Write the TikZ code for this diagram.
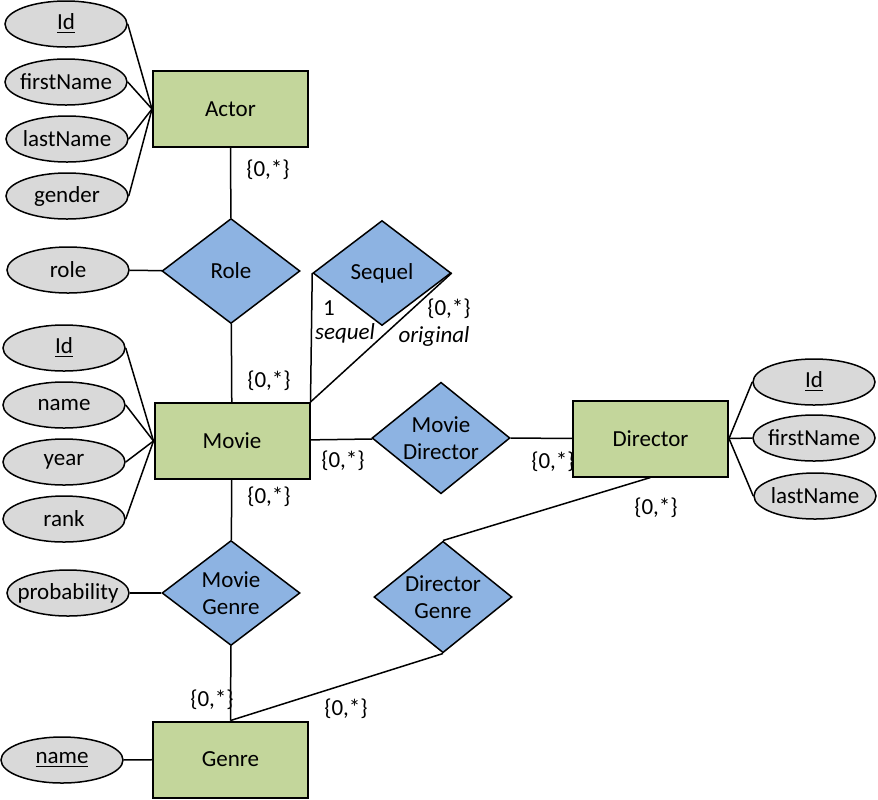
\documentclass[tikz,border=0pt]{standalone}
\usepackage{fontspec}
\setmainfont{Carlito}
\usetikzlibrary{shapes.geometric}

\definecolor{entgreen}{HTML}{C3D69B}
\definecolor{relblue}{HTML}{8DB3E2}
\definecolor{attrgray}{HTML}{D9D9D9}
\newcommand{\erfont}{\fontsize{11.5}{13.8}\selectfont}

\begin{document}
\begin{tikzpicture}[
    x=0.5pt, y=-0.5pt,
    every node/.style={font=\erfont},
    entity/.style={rectangle, draw, line width=1pt, fill=entgreen, minimum width=77.5pt, minimum height=38pt},
    attr/.style={ellipse, draw, line width=0.75pt, fill=attrgray, minimum width=61pt, minimum height=23pt, inner sep=0pt, inner xsep=-8pt},
    rel/.style={diamond, draw, line width=0.75pt, fill=relblue, minimum width=69pt, minimum height=52.5pt, inner sep=-1pt, align=center},
    card/.style={inner sep=0pt},
    link/.style={line width=0.75pt}
]
    \useasboundingbox (0,0) rectangle (878,799);

    % entities
    \node[entity] (actor) at (230.5,109) {Actor};
    \node[entity] (movie) at (232,441) {Movie};
    \node[entity] (director) at (650.5,438.5) {Director};
    \node[entity] (genre) at (230.5,759.5) {Genre};

    % relationships
    \node[rel] (role) at (231,271) {Role};
    \node[rel] (sequel) at (382,273) {Sequel};
    \node[rel] (moviedir) at (441,438) {Movie\\Director};
    \node[rel] (moviegenre) at (231,593) {Movie\\Genre};
    \node[rel] (dirgenre) at (443,597) {Director\\Genre};

    % attributes
    \node[attr] (actorid) at (66,24) {\underline{Id}};
    \node[attr] (actorfirst) at (66,82) {firstName};
    \node[attr] (actorlast) at (67,139) {lastName};
    \node[attr] (actorgender) at (67,196) {gender};
    \node[attr] (rolename) at (68,270) {role};
    \node[attr] (movieid) at (64,348) {\underline{Id}};
    \node[attr] (moviename) at (64,405) {name};
    \node[attr] (movieyear) at (64,462) {year};
    \node[attr] (movierank) at (64,519) {rank};
    \node[attr] (prob) at (68,593) {probability};
    \node[attr] (genrename) at (62,760) {\underline{name}};
    \node[attr] (dirid) at (814,382) {\underline{Id}};
    \node[attr] (dirfirst) at (814,438) {firstName};
    \node[attr] (dirlast) at (815,496) {lastName};

    % attribute links
    \foreach \a in {actorid,actorfirst,actorlast,actorgender}
        \draw[link] (\a.east) -- (actor.west);
    \foreach \a in {movieid,moviename,movieyear,movierank}
        \draw[link] (\a.east) -- (movie.west);
    \foreach \a in {dirid,dirfirst,dirlast}
        \draw[link] (director.east) -- (\a.west);
    \draw[link] (rolename) -- (role);
    \draw[link] (prob) -- (moviegenre);
    \draw[link] (genrename) -- (genre);

    % relationship links
    \draw[link] (actor) -- (role);
    \draw[link] (role) -- (movie);
    \draw[link] (movie.north east) -- (sequel.west);
    \draw[link] (movie.north east) -- (sequel.east);
    \draw[link] (movie) -- (moviedir);
    \draw[link] (moviedir) -- (director);
    \draw[link] (movie) -- (moviegenre);
    \draw[link] (moviegenre) -- (genre);
    \draw[link] (director.south) -- (dirgenre.north);
    \draw[link] (dirgenre.south) -- (genre.north);

    % cardinalities
    \node[card] (c1) at (268,170) {\{0,*\}};
    \node[card] (c2) at (329,308) {1};
    \node[card] (c3) at (345,333) {\itshape sequel};
    \node[card] (c4) at (449,309) {\{0,*\}};
    \node[card] (c5) at (434,336) {\itshape original};
    \node[card] (c6) at (269,381) {\{0,*\}};
    \node[card] (c7) at (343,461) {\{0,*\}};
    \node[card] (c8) at (553,462) {\{0,*\}};
    \node[card] (c9) at (269,497) {\{0,*\}};
    \node[card] (c10) at (656,508) {\{0,*\}};
    \node[card] (c11) at (212,700) {\{0,*\}};
    \node[card] (c12) at (346,709) {\{0,*\}};
\end{tikzpicture}
\end{document}
